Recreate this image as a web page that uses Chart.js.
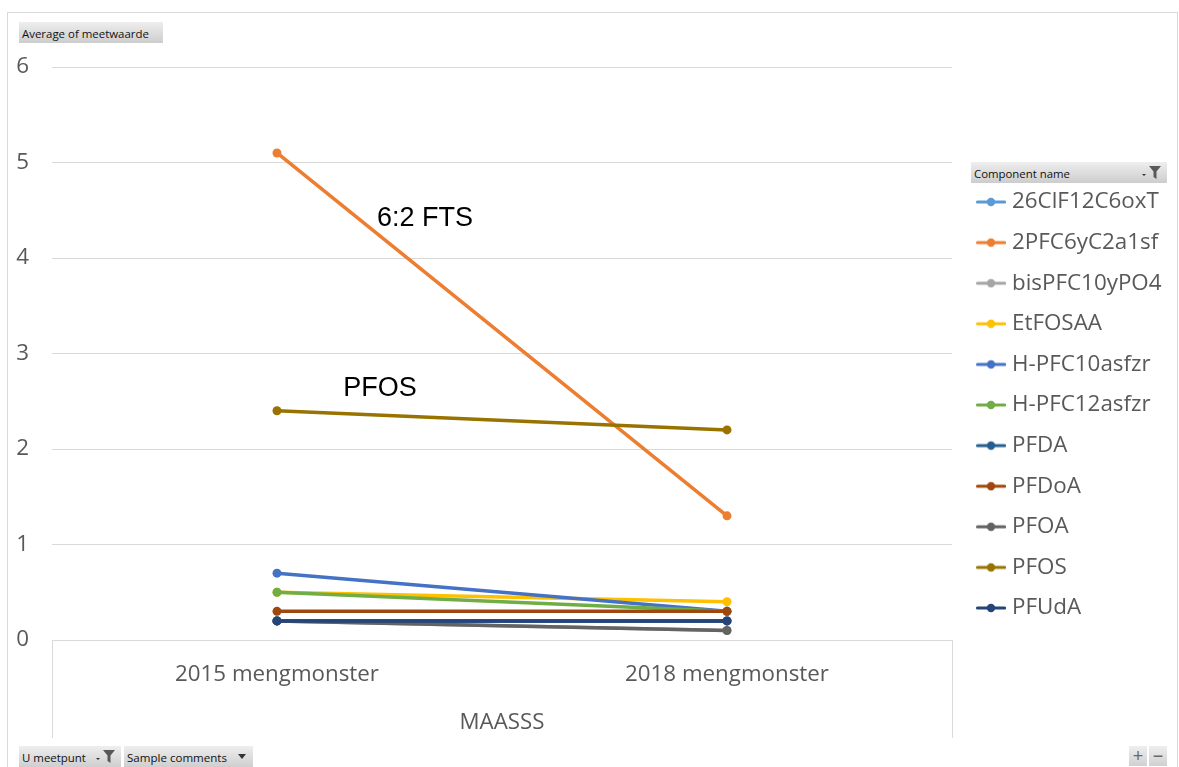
<!DOCTYPE html>
<html><head><meta charset="utf-8">
<script src="https://cdn.jsdelivr.net/npm/chart.js@4/dist/chart.umd.min.js"></script>
<style>
html,body{margin:0;padding:0;background:#fff;width:1179px;height:767px;overflow:hidden;}
#frame{position:absolute;left:7px;top:12px;width:1171px;height:770px;border:1px solid #d9d9d9;box-sizing:border-box;}
#wrap{position:absolute;left:0;top:0;width:1179px;height:767px;}
.btn{position:absolute;height:21px;background:linear-gradient(#eeeeee,#cdcdcd);color:#111;line-height:21px;padding-left:3px;box-sizing:border-box;white-space:nowrap;}
.ico{position:absolute;top:4px;}
.pm{position:absolute;top:746px;width:18px;height:20px;background:linear-gradient(#eeeeee,#d0d0d0);color:#6a6a6a;font:18px/20px "Liberation Sans",sans-serif;text-align:center;}
</style></head>
<body>
<div id="frame"></div>
<div id="wrap"><canvas id="c"></canvas></div>
<div class="btn" style="left:19px;top:22px;width:144px;"><span class="fit" data-w="127">Average of meetwaarde</span></div>
<div class="btn" style="left:971px;top:162px;width:196px;"><span class="fit" data-w="96">Component name</span>
  <svg class="ico" style="right:5px" width="22" height="13" viewBox="0 0 22 13"><path d="M2 8H6L4 10Z" fill="#333"/><path d="M9 0H21L16.5 5.5V13L13.5 11V5.5Z" fill="#595959"/></svg></div>
<div class="btn" style="left:19px;top:746px;width:102px;height:22px;"><span class="fit" data-w="64">U meetpunt</span>
  <svg class="ico" style="right:5px" width="22" height="13" viewBox="0 0 22 13"><path d="M2 8H6L4 10Z" fill="#333"/><path d="M9 0H21L16.5 5.5V13L13.5 11V5.5Z" fill="#595959"/></svg></div>
<div class="btn" style="left:124px;top:746px;width:129px;height:22px;"><span class="fit" data-w="100">Sample comments</span>
  <svg class="ico" style="right:7px;top:8px" width="8" height="5" viewBox="0 0 8 5"><path d="M0 0H8L4 5Z" fill="#333"/></svg></div>
<div class="pm" style="left:1129px;">+</div>
<div class="pm" style="left:1149px;">&#8722;</div>
<script>
// ---- data ----
const categories = ['2015 mengmonster', '2018 mengmonster'];
const axisTitle = 'MAASSS';
const yTicks = [0, 1, 2, 3, 4, 5, 6];
const seriesNames = ['26ClF12C6oxT','2PFC6yC2a1sf','bisPFC10yPO4','EtFOSAA','H-PFC10asfzr','H-PFC12asfzr','PFDA','PFDoA','PFOA','PFOS','PFUdA'];
const v_26ClF12C6oxT = [0.2, 0.2];
const v_2PFC6yC2a1sf = [5.1, 1.3];
const v_bisPFC10yPO4 = [0.2, 0.1];
const v_EtFOSAA      = [0.5, 0.4];
const v_HPFC10asfzr  = [0.7, 0.3];
const v_HPFC12asfzr  = [0.5, 0.3];
const v_PFDA         = [0.2, 0.2];
const v_PFDoA        = [0.3, 0.3];
const v_PFOA         = [0.2, 0.1];
const v_PFOS         = [2.4, 2.2];
const v_PFUdA        = [0.2, 0.2];
const seriesValues = [v_26ClF12C6oxT, v_2PFC6yC2a1sf, v_bisPFC10yPO4, v_EtFOSAA, v_HPFC10asfzr, v_HPFC12asfzr, v_PFDA, v_PFDoA, v_PFOA, v_PFOS, v_PFUdA];
const seriesColors = ['#5B9BD5','#ED7D31','#A5A5A5','#FFC000','#4472C4','#70AD47','#255E91','#9E480E','#636363','#997300','#264478'];
const noteTexts = ['6:2 FTS', 'PFOS'];
// annotation anchors in data units (category index, value)
const noteAnchors = [[0.222, 4.41], [0.147, 2.63]];

// ---- fonts ----
const mctx = document.createElement('canvas').getContext('2d');
function hasFont(f) {
  const s = 'abcdefghijklmnopqrstuvwxyzABCDEFGHIJ0123456789';
  mctx.font = '40px monospace'; const a = mctx.measureText(s).width;
  mctx.font = '40px "' + f + '", monospace'; const b = mctx.measureText(s).width;
  return a !== b;
}
const FONT = hasFont('Liberation Sans Narrow') ? '"Liberation Sans Narrow"' : '"Open Sans", sans-serif';
function fitSize(text, target) {
  mctx.font = '100px ' + FONT;
  return 100 * target / mctx.measureText(text).width;
}
const FS_TICK = fitSize('2015 mengmonster', 204);
const FS_LEG = fitSize('26ClF12C6oxT', 147);
const FS_TITLE = fitSize('MAASSS', 85);
document.querySelectorAll('.fit').forEach(el => {
  el.style.fontFamily = FONT;
  el.style.fontSize = fitSize(el.textContent, +el.dataset.w) + 'px';
});

// ---- style / layout ----
const W = 1179, H = 767;
const GREY = '#595959';
const GRID = '#D9D9D9';
const AREA_L = 52, AREA_T = 67, AREA_R = 952, AREA_B = 640;
const ITEM_STEP = 40.6, FIRST_ITEM_MID = 202, TEXT_X = 1012;
const MARK_L = 976, MARK_R = 1006;
const LEG_PAD = ITEM_STEP - FS_LEG;
const LEG_BOX = TEXT_X - (AREA_R + LEG_PAD) - FS_LEG / 2;

mctx.font = FS_LEG + 'px ' + FONT;
const maxText = Math.max(...seriesNames.map(s => mctx.measureText(s).width));
const legendWidth = LEG_PAD + LEG_BOX + FS_LEG / 2 + maxText + 10;
const padRight = W - AREA_R - legendWidth;

// legend marker images (line with dot)
const boxCenter = AREA_R + LEG_PAD + LEG_BOX / 2;
const imgW = Math.round(2 * (MARK_R - boxCenter));
const imgLeft = boxCenter - imgW / 2;
const markers = seriesColors.map(col => {
  const c = document.createElement('canvas');
  c.width = imgW; c.height = 12;
  const x = c.getContext('2d');
  x.strokeStyle = col; x.lineWidth = 3.2; x.lineCap = 'round';
  x.beginPath(); x.moveTo(MARK_L - imgLeft + 1.5, 6); x.lineTo(MARK_R - imgLeft - 1.5, 6); x.stroke();
  x.fillStyle = col; x.beginPath(); x.arc((MARK_L + MARK_R) / 2 - imgLeft, 6, 4.2, 0, Math.PI * 2); x.fill();
  return c;
});

const titleHeight = (FIRST_ITEM_MID - FS_LEG / 2) - AREA_T - LEG_PAD;

const notesPlugin = {
  id: 'notes',
  afterDatasetsDraw(chart) {
    const ctx = chart.ctx, xs = chart.scales.x, ys = chart.scales.y;
    ctx.save();
    ctx.font = '27px "Liberation Sans", Arial, sans-serif';
    ctx.fillStyle = '#000';
    ctx.textBaseline = 'middle';
    ctx.textAlign = 'left';
    noteTexts.forEach((t, i) => {
      ctx.fillText(t, xs.getPixelForValue(noteAnchors[i][0]), ys.getPixelForValue(noteAnchors[i][1]));
    });
    ctx.restore();
  }
};

new Chart(document.getElementById('c'), {
  type: 'line',
  data: {
    labels: categories,
    datasets: seriesNames.map((n, i) => ({
      label: n,
      data: seriesValues[i],
      borderColor: seriesColors[i],
      backgroundColor: seriesColors[i],
      pointBackgroundColor: seriesColors[i],
      borderWidth: 3.5,
      pointRadius: 4.5,
      pointHoverRadius: 4.5,
      pointBorderWidth: 0,
      tension: 0,
      fill: false,
      borderCapStyle: 'round',
      order: seriesNames.length - i
    }))
  },
  options: {
    responsive: true,
    maintainAspectRatio: false,
    animation: false,
    events: [],
    layout: { padding: { left: 0, top: AREA_T, right: padRight, bottom: 0 } },
    scales: {
      x: {
        type: 'category',
        offset: true,
        afterFit(s) { s.height = H - AREA_B; },
        grid: {
          display: true, drawOnChartArea: false, drawTicks: true, tickLength: 98, offset: true,
          color: c => (c.index === 1 ? 'rgba(0,0,0,0)' : GRID),
          tickColor: c => (c.index === 1 ? 'rgba(0,0,0,0)' : GRID),
          lineWidth: 1
        },
        border: { display: true, color: GRID, width: 1 },
        ticks: { color: GREY, font: { family: FONT, size: FS_TICK, lineHeight: 1.2 }, padding: -(98 + FS_TICK * 0.6 - (675 - AREA_B)), maxRotation: 0, autoSkip: false },
        title: { display: true, text: axisTitle, color: GREY, font: { family: FONT, size: FS_TITLE, lineHeight: 1.2 }, padding: { top: 0, bottom: (H - 723) - FS_TITLE * 0.6 } }
      },
      y: {
        min: yTicks[0], max: yTicks[yTicks.length - 1],
        afterFit(s) { s.width = AREA_L; },
        afterBuildTicks(s) { s.ticks = yTicks.map(v => ({ value: v })); },
        grid: { color: GRID, lineWidth: 1, drawTicks: false },
        border: { display: false },
        ticks: { color: GREY, font: { family: FONT, size: FS_TICK }, padding: AREA_L - 29, stepSize: 1 }
      }
    },
    plugins: {
      tooltip: { enabled: false },
      legend: {
        display: true,
        position: 'right',
        align: 'start',
        title: { display: true, text: '', font: { size: 12, lineHeight: 1 }, padding: { top: titleHeight - 12, bottom: 0 } },
        labels: {
          color: GREY,
          font: { family: FONT, size: FS_LEG },
          padding: LEG_PAD,
          usePointStyle: true,
          pointStyleWidth: LEG_BOX,
          boxHeight: FS_LEG,
          generateLabels(chart) {
            const items = Chart.defaults.plugins.legend.labels.generateLabels(chart);
            items.forEach(it => { it.pointStyle = markers[it.datasetIndex]; });
            return items;
          },
          sort: (a, b) => a.datasetIndex - b.datasetIndex
        }
      }
    }
  },
  plugins: [notesPlugin]
});
</script>
</body></html>
